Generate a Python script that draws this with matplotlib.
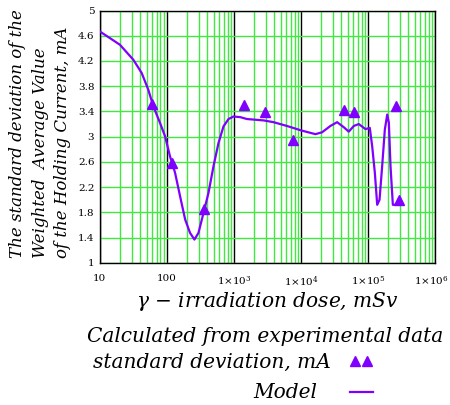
import numpy as np
import matplotlib.pyplot as plt
from matplotlib.ticker import FixedLocator, LogLocator, NullFormatter
from matplotlib.transforms import ScaledTranslation

# --- Data ---
exp_dose = [59.2, 119, 355, 1419, 2924, 7590, 43400, 61200, 257000, 288000]
exp_sd = [3.52, 2.58, 1.855, 3.5, 3.385, 2.94, 3.43, 3.385, 3.48, 2.0]

model_dose = [10, 14.1, 19.9, 31.5, 42, 52.7, 62.7, 78.9, 93.8, 111, 132, 157,
              187, 221, 257, 295, 351, 416, 494, 587, 697, 828, 985, 1238,
              1560, 2763, 3890, 6166, 10000, 16370, 20600, 27400, 34500,
              43400, 51500, 61200, 72600, 91400, 106000, 115000, 126000,
              136700, 148000, 162000, 177600, 192700, 204000, 216000, 234000,
              300000]
model_sd = [4.667, 4.563, 4.457, 4.22, 4.01, 3.744, 3.48, 3.217, 3.005, 2.69,
            2.43, 2.055, 1.686, 1.475, 1.369, 1.475, 1.79, 2.108, 2.53, 2.9,
            3.163, 3.28, 3.32, 3.31, 3.28, 3.258, 3.23, 3.17, 3.1, 3.04, 3.07,
            3.17, 3.23, 3.15, 3.08, 3.17, 3.2, 3.12, 3.14, 2.85, 2.43, 1.92,
            2.0, 2.53, 3.11, 3.35, 3.22, 2.53, 1.92, 1.92]

y_ticks = [1, 1.4, 1.8, 2.2, 2.6, 3, 3.4, 3.8, 4.2, 4.6, 5]
x_ticks = [10, 100, 1e3, 1e4, 1e5, 1e6]
x_labels = ['10', '100', r'1$\times$10$^{3}$', r'1$\times$10$^{4}$',
            r'1$\times$10$^{5}$', r'1$\times$10$^{6}$']

PURPLE = '#8000ff'
GREEN = '#40e840'

plt.rcParams['font.family'] = 'DejaVu Serif'
plt.rcParams['mathtext.fontset'] = 'dejavuserif'

fig = plt.figure(figsize=(4.5, 4.05), dpi=100)
ax = fig.add_axes([0.222, 0.351, 0.745, 0.623])

ax.plot(model_dose, model_sd, color=PURPLE, lw=1.6, zorder=3)
ax.plot(exp_dose, exp_sd, linestyle='none', marker='^', color=PURPLE,
        markersize=7.5, zorder=4)

ax.set_xscale('log')
ax.set_xlim(10, 1e6)
ax.set_ylim(1, 5)

ax.yaxis.set_major_locator(FixedLocator(y_ticks))
ax.set_yticklabels([f'{v:g}' for v in y_ticks])
ax.xaxis.set_major_locator(FixedLocator(x_ticks))
ax.set_xticklabels(x_labels)
ax.xaxis.set_minor_locator(LogLocator(base=10, subs=np.arange(2, 10), numticks=20))
ax.xaxis.set_minor_formatter(NullFormatter())

# grid: green horizontals and minor verticals, black decade lines
ax.grid(True, axis='y', which='major', color=GREEN, lw=1)
ax.grid(True, axis='x', which='minor', color=GREEN, lw=1)
ax.grid(True, axis='x', which='major', color='black', lw=1)
ax.set_axisbelow(True)

ax.tick_params(which='both', length=0, labelsize=7.5)
ax.tick_params(axis='x', pad=8)
ax.tick_params(axis='y', pad=4)
for s in ax.spines.values():
    s.set_color('black')
    s.set_linewidth(1)

# last x label sits on the figure edge, pull it in a little
last = ax.get_xticklabels()[-1]
last.set_transform(last.get_transform() + ScaledTranslation(-4 / 100, 0, fig.dpi_scale_trans))

ax.set_xlabel(r'$\gamma$ $-$ irradiation dose, mSv', fontsize=14.5,
              fontstyle='italic', labelpad=1)

# three-line y label, lines start at the same height
ylab_kw = dict(rotation=90, fontsize=12, fontstyle='italic', ha='center', va='bottom')
fig.text(0.04, 0.363, 'The standard deviation of the', **ylab_kw)
fig.text(0.089, 0.363, 'Weighted  Average Value', **ylab_kw)
fig.text(0.138, 0.363, 'of the Holding Current, mA', **ylab_kw)

# legend, drawn as figure text like the original worksheet
leg_kw = dict(fontsize=14.5, fontstyle='italic', va='center')
fig.text(0.985, 0.168, 'Calculated from experimental data', ha='right', **leg_kw)
fig.text(0.735, 0.104, 'standard deviation, mA', ha='right', **leg_kw)
fig.text(0.705, 0.03, 'Model', ha='right', **leg_kw)
fig.lines.append(plt.Line2D([0.789, 0.815], [0.108, 0.108], transform=fig.transFigure,
                            linestyle='none', marker='^', color=PURPLE, markersize=6.5))
fig.lines.append(plt.Line2D([0.778, 0.829], [0.032, 0.032], transform=fig.transFigure,
                            color=PURPLE, lw=1.6))

fig.savefig('out.png', dpi=100)
